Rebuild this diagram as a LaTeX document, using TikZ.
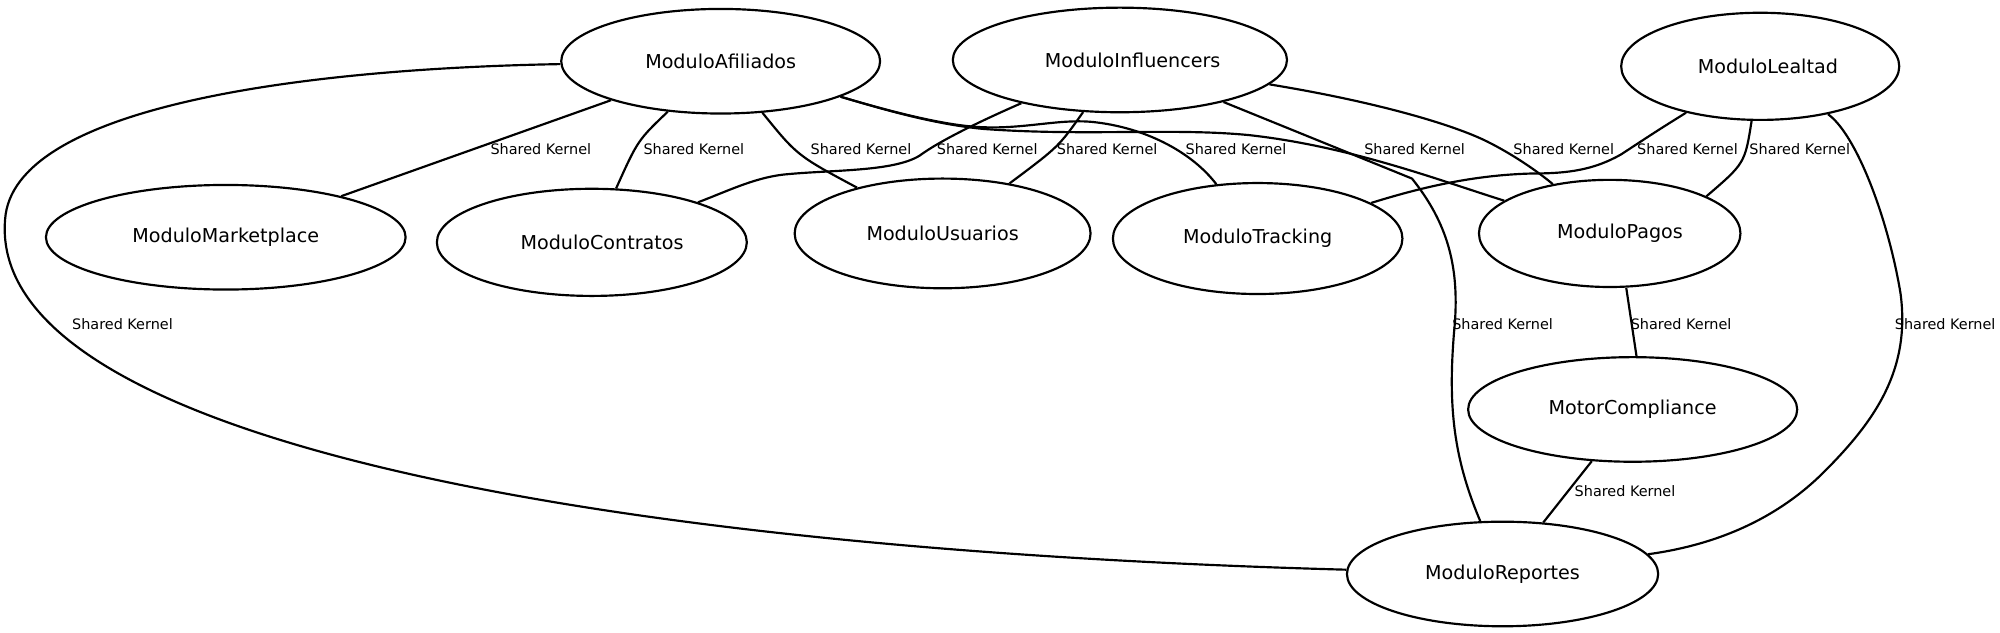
\documentclass[tikz,border=0pt]{standalone}
\usepackage{fontspec}
\setmainfont{DejaVu Sans}
\usetikzlibrary{shapes.geometric}
\tikzset{
  modbox/.style={draw, ellipse, line width=1.7pt, inner sep=0pt, font=\fontsize{15}{18}\selectfont},
  conn/.style={line width=1.7pt},
  sklabel/.style={inner sep=0pt, font=\fontsize{11.3}{13}\selectfont}
}
\begin{document}
\begin{tikzpicture}[x=1pt,y=-1pt]
\useasboundingbox (0,0) rectangle (1568,496);
% nodes
\node[modbox, minimum width=250pt, minimum height=82pt] (afi) at (565,48) {ModuloAfiliados};
\node[modbox, minimum width=262pt, minimum height=82pt] (inf) at (878,47) {\hspace*{20pt}ModuloInfluencers};
\node[modbox, minimum width=218pt, minimum height=84pt] (lea) at (1380,52) {\hspace*{12pt}ModuloLealtad};
\node[modbox, minimum width=282pt, minimum height=82pt] (mkt) at (177,186) {ModuloMarketplace};
\node[modbox, minimum width=243pt, minimum height=84pt] (con) at (464,190) {\hspace*{16pt}ModuloContratos};
\node[modbox, minimum width=232pt, minimum height=86pt] (usu) at (739,183) {ModuloUsuarios};
\node[modbox, minimum width=227pt, minimum height=87pt] (tra) at (986,187) {ModuloTracking};
\node[modbox, minimum width=205pt, minimum height=84pt] (pag) at (1262,183) {\hspace*{16pt}ModuloPagos};
\node[modbox, minimum width=258pt, minimum height=82pt] (mot) at (1280,321) {MotorCompliance};
\node[modbox, minimum width=244pt, minimum height=82pt] (rep) at (1178,450) {ModuloReportes};
% connectors
\draw[conn] (afi) .. controls (230,54) and (10,85) .. (4,172)
  .. controls (-10,340) and (450,430) .. (rep);
\draw[conn] (afi) -- (mkt);
\draw[conn] (afi) .. controls (500,110) .. (con);
\draw[conn] (afi) .. controls (625,122) .. (usu);
\draw[conn] (afi) .. controls (690,85) and (730,96) .. (760,99)
  .. controls (800,103) and (830,92) .. (860,96)
  .. controls (900,101) and (935,120) .. (tra);
\draw[conn] (afi) .. controls (690,85) and (730,97) .. (770,101)
  .. controls (850,107) and (920,100) .. (980,106)
  .. controls (1060,115) and (1130,142) .. (pag);
\draw[conn] (inf) .. controls (780,90) and (740,108) .. (721,122)
  .. controls (700,135) and (650,133) .. (613,137)
  .. controls (590,140) and (570,150) .. (con);
\draw[conn] (inf) .. controls (830,115) .. (usu);
\draw[conn] (inf) -- (1107,140)
  .. controls (1135,175) and (1145,210) .. (1140,260)
  .. controls (1135,320) and (1140,360) .. (rep);
\draw[conn] (inf) .. controls (1080,80) and (1140,98) .. (1166,111)
  .. controls (1190,123) and (1210,138) .. (pag);
\draw[conn] (lea) .. controls (1300,102) .. (1271,121)
  .. controls (1250,133) and (1230,136) .. (1202,136)
  .. controls (1160,137) and (1120,145) .. (tra);
\draw[conn] (lea) .. controls (1368,128) .. (pag.21);
\draw[conn] (lea) .. controls (1455,105) and (1480,170) .. (1490,230)
  .. controls (1498,290) and (1470,330) .. (1430,370)
  .. controls (1390,410) and (1340,428) .. (rep);
\draw[conn] ([xshift=13pt]pag.south) -- ([xshift=3pt]mot.north);
\draw[conn] (mot) -- (rep);
% labels
\node[sklabel] (l1) at (424,117) {Shared Kernel};
\node[sklabel] (l2) at (544,117) {Shared Kernel};
\node[sklabel] (l3) at (675,117) {Shared Kernel};
\node[sklabel] (l4) at (774,117) {Shared Kernel};
\node[sklabel] (l5) at (868,117) {Shared Kernel};
\node[sklabel] (l6) at (969,117) {Shared Kernel};
\node[sklabel] (l7) at (1109,117) {Shared Kernel};
\node[sklabel] (l8) at (1226,117) {Shared Kernel};
\node[sklabel] (l9) at (1323,117) {Shared Kernel};
\node[sklabel] (l10) at (1411,117) {Shared Kernel};
\node[sklabel] (l11) at (96,254) {Shared Kernel};
\node[sklabel] (l12) at (1178,254) {Shared Kernel};
\node[sklabel] (l13) at (1318,254) {Shared Kernel};
\node[sklabel] (l14) at (1525,254) {Shared Kernel};
\node[sklabel] (l15) at (1274,385) {Shared Kernel};
\end{tikzpicture}
\end{document}
